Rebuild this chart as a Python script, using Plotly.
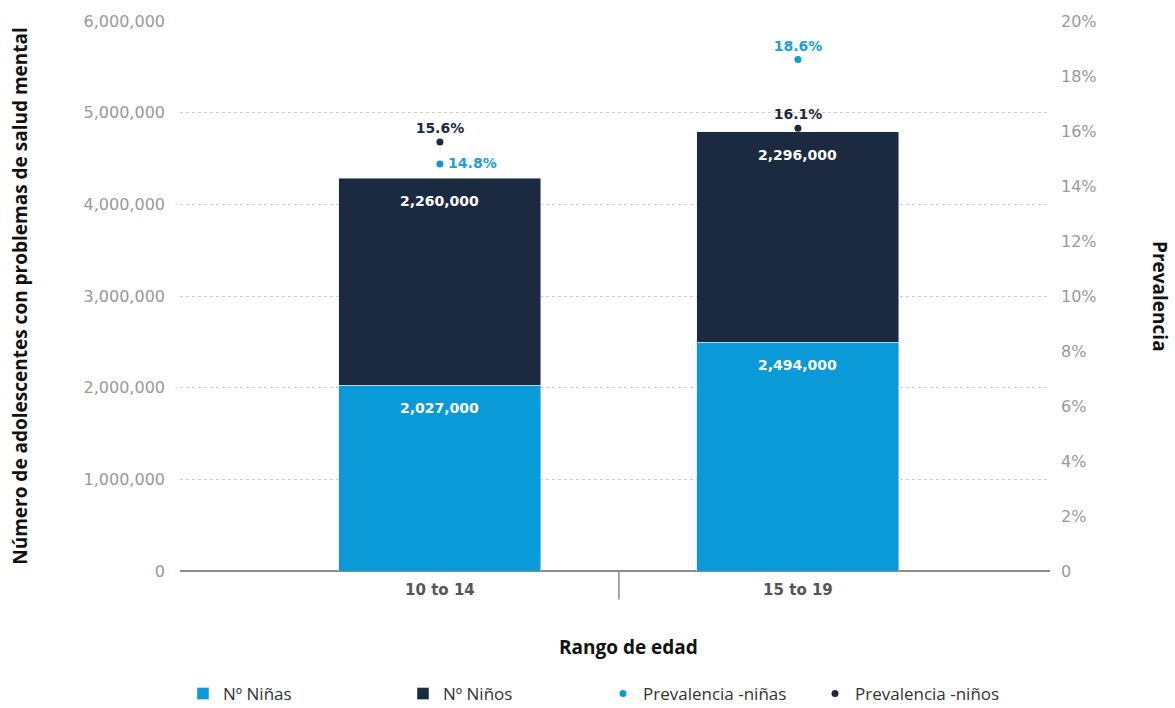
import plotly.graph_objects as go

categories = ["10 to 14", "15 to 19"]
ninas = [2027000, 2494000]
ninos = [2260000, 2296000]
prev_ninas = [0.148, 0.186]
prev_ninos = [0.156, 0.161]
prev_ninas_pos = ["middle right", "top center"]
prev_ninos_pos = ["top center", "top center"]
left_ticks = [0, 1000000, 2000000, 3000000, 4000000, 5000000, 6000000]
left_tick_text = ["0", "1,000,000", "2,000,000", "3,000,000", "4,000,000", "5,000,000", "6,000,000"]
right_ticks = [0, 0.02, 0.04, 0.06, 0.08, 0.10, 0.12, 0.14, 0.16, 0.18, 0.20]
right_tick_text = ["0", "2%", "4%", "6%", "8%", "10%", "12%", "14%", "16%", "18%", "20%"]

LIGHT = "#0A9AD7"
DARK = "#1B2A40"
LIGHT_TXT = "#1AA0DC"
CHART_FONT = "DejaVu Sans"
TITLE_FONT = "Open Sans"

fig = go.Figure()
fig.add_trace(go.Bar(x=categories, y=ninas, name="Nº Niñas", marker_color=LIGHT, width=0.564,
                     legendwidth=175))
fig.add_trace(go.Bar(x=categories, y=ninos, name="Nº Niños", marker_color=DARK, width=0.564,
                     legendwidth=155))
fig.add_trace(go.Scatter(
    x=categories, y=prev_ninas, name="Prevalencia -niñas", yaxis="y2", mode="markers+text",
    marker=dict(color=LIGHT, size=7), legendwidth=167,
    text=[f"\u2009{v*100:.1f}%" if p == "middle right" else f"{v*100:.1f}%"
          for v, p in zip(prev_ninas, prev_ninas_pos)],
    textposition=prev_ninas_pos,
    textfont=dict(family=CHART_FONT, size=14, color=LIGHT_TXT, weight="bold")))
fig.add_trace(go.Scatter(
    x=categories, y=prev_ninos, name="Prevalencia -niños", yaxis="y2", mode="markers+text",
    marker=dict(color=DARK, size=7),
    text=[f"{v*100:.1f}%" for v in prev_ninos], textposition=prev_ninos_pos,
    textfont=dict(family=CHART_FONT, size=14, color=DARK, weight="bold")))

annotations = []
for i, c in enumerate(categories):
    annotations.append(dict(x=c, y=ninas[i], yshift=-23, text=f"{ninas[i]:,}", showarrow=False,
                            font=dict(family=CHART_FONT, size=14, color="white", weight="bold")))
    annotations.append(dict(x=c, y=ninas[i] + ninos[i], yshift=-23, text=f"{ninos[i]:,}", showarrow=False,
                            font=dict(family=CHART_FONT, size=14, color="white", weight="bold")))
annotations.append(dict(xref="paper", yref="paper", x=(1160 - 180) / 870, y=0.5, textangle=90,
                        xanchor="center", yanchor="middle",
                        text="Prevalencia", showarrow=False,
                        font=dict(family=TITLE_FONT, size=19, color="#111", weight="bold")))
annotations.append(dict(xref="paper", yref="paper", x=(628 - 180) / 870, y=-(647 - 571) / 550,
                        xanchor="center", yanchor="middle",
                        text="Rango de edad", showarrow=False,
                        font=dict(family=TITLE_FONT, size=19, color="#111", weight="bold")))

fig.update_layout(
    width=1175, height=708,
    margin=dict(l=180, r=125, t=21, b=137),
    paper_bgcolor="white", plot_bgcolor="white",
    barmode="stack",
    showlegend=True,
    legend=dict(orientation="h", traceorder="normal", xref="container", yref="container",
                x=183 / 1175, y=(708 - 694) / 708, xanchor="left", yanchor="middle",
                font=dict(family=TITLE_FONT, size=17, color="#333")),
    xaxis=dict(range=[-0.726, 1.704], showgrid=False, showline=False, ticks="", ticklabelstandoff=8,
               tickfont=dict(family=CHART_FONT, size=15, color="#555", weight="bold")),
    yaxis=dict(range=[0, 6000000], tickvals=left_ticks, ticktext=left_tick_text,
               showgrid=True, gridcolor="#CCCCCC", griddash="dot", gridwidth=1,
               zeroline=True, zerolinecolor="#8C8C8C", zerolinewidth=2, showline=False,
               ticks="", ticklabelstandoff=14,
               tickfont=dict(family=CHART_FONT, size=16, color="#999999"),
               title=dict(text="Número de adolescentes con problemas de salud mental", standoff=50,
                          font=dict(family=TITLE_FONT, size=19, color="#111", weight="bold"))),
    yaxis2=dict(range=[0, 0.20], overlaying="y", side="right", tickvals=right_ticks, ticktext=right_tick_text,
                showgrid=False, zeroline=False, showline=False, ticks="", ticklabelstandoff=10,
                tickfont=dict(family=CHART_FONT, size=16, color="#999999")),
    annotations=annotations,
    shapes=[dict(type="line", xref="x", yref="paper", x0=0.5, x1=0.5, y0=0, y1=-0.052,
                 line=dict(color="#888", width=1.5))],
)

fig.write_html("out.html")
